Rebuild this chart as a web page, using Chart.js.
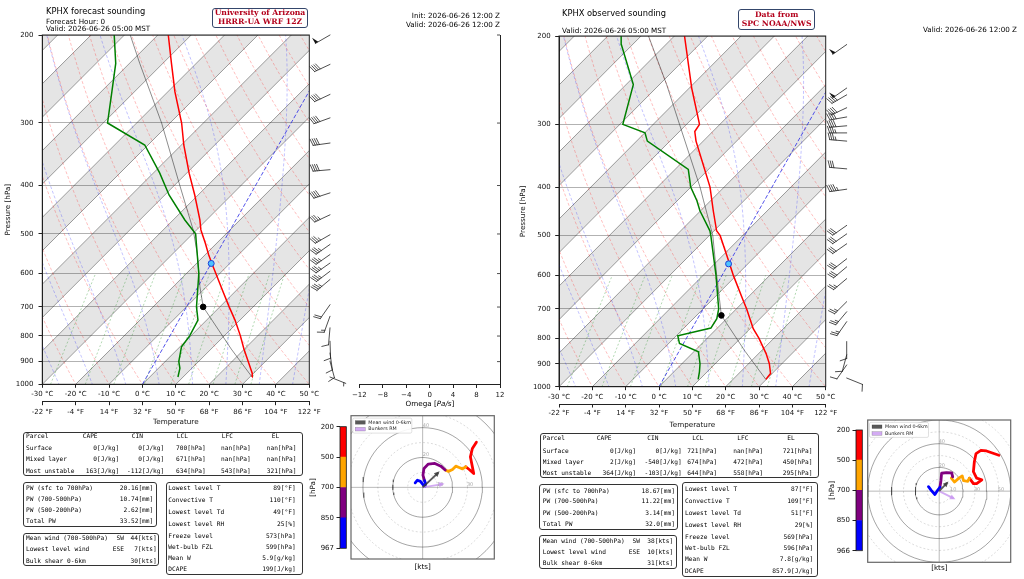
<!DOCTYPE html>
<html>
<head>
<meta charset="utf-8">
<title>KPHX soundings</title>
<script src="https://cdn.jsdelivr.net/npm/chart.js@4.4.1/dist/chart.umd.min.js"></script>
<style>
  html, body { margin: 0; padding: 0; background: #fff; }
  #page { position: relative; width: 1024px; height: 579px; overflow: hidden; font-family: "DejaVu Sans", sans-serif; color: #000; }
  #page canvas { position: absolute; }
  .t { position: absolute; white-space: pre; line-height: 1; }
  .box { position: absolute; box-sizing: border-box; border: 1.2px solid #333; border-radius: 3px; }
  .mono { font-family: "DejaVu Sans Mono", monospace; font-size: 6.2px; }
  .tag { position: absolute; box-sizing: border-box; border: 1.4px solid #34466b; border-radius: 3px; }
  .tagtxt { font-family: "DejaVu Serif", serif; font-weight: bold; color: #b3001b; font-size: 7.7px; }
</style>
</head>
<body>
<div id="page">
  <canvas id="skewFcst" width="360" height="430" style="left:0px;top:0px"></canvas>
  <canvas id="omega" width="175" height="420" style="left:340px;top:0px"></canvas>
  <canvas id="skewObs" width="350" height="432" style="left:515px;top:0px"></canvas>
  <canvas id="cbarFcst" width="52" height="140" style="left:296px;top:415px"></canvas>
  <canvas id="hodoFcst" width="152" height="160" style="left:348px;top:410px"></canvas>
  <canvas id="cbarObs" width="52" height="140" style="left:812px;top:418px"></canvas>
  <canvas id="hodoObs" width="162" height="169" style="left:862px;top:410px"></canvas>
</div>
<script>
// --- Axis ticks ---
const tempTicksC = [-30, -20, -10, 0, 10, 20, 30, 40, 50];
const tempTicksF = [-22, -4, 14, 32, 50, 68, 86, 104, 122];
const pressureTicks = [200, 300, 400, 500, 600, 700, 800, 900, 1000];
const omegaTicks = [-12, -8, -4, 0, 4, 8, 12];

// --- Forecast sounding (HRRR-UA WRF 12Z) ---
const fcstTempP = [967, 950, 900, 850, 800, 744, 700, 650, 600, 573, 550, 522, 491, 469, 418, 378, 332, 300, 260, 228, 200];
const fcstTempC = [31.6, 31.0, 27.8, 24.4, 21.1, 16.8, 12.8, 8.1, 3.1, 0.2, -2.3, -5.2, -8.8, -10.8, -16.6, -22.0, -28.4, -32.8, -40.1, -46.0, -51.8];
const fcstDewP = [967, 929, 900, 841, 800, 744, 700, 600, 522, 500, 469, 418, 378, 332, 300, 260, 228, 200];
const fcstDewC = [9.4, 8.5, 7.0, 5.3, 5.9, 5.7, 3.0, -2.0, -7.9, -9.7, -15.3, -24.3, -30.8, -40.1, -55.0, -59.0, -62.7, -68.0];
const fcstParcelP = [967, 850, 700, 638, 547, 491, 400, 300, 228, 200];
const fcstParcelC = [31.6, 20.6, 5.0, 0.6, -5.9, -11.1, -22.7, -38.8, -55.5, -63.2];
const fcstLcl = [700, 5.0];
const fcstFzl = 573;
const fcstWindP = [200, 229, 263, 293, 329, 372, 414, 458, 502, 525, 550, 572, 594, 617, 693, 731, 771, 820, 866, 899, 967];
const fcstWindDir = [240, 245, 245, 250, 262, 265, 252, 245, 240, 235, 235, 235, 233, 230, 215, 200, 185, 178, 172, 165, 112];
const fcstWindSpd = [50, 40, 40, 40, 40, 40, 40, 35, 35, 35, 35, 35, 35, 35, 20, 15, 10, 10, 10, 10, 7];

// --- Observed sounding (SPC) ---
const obsTempP = [967, 941, 900, 859, 800, 766, 700, 673, 600, 569, 500, 489, 446, 400, 324, 310, 300, 254, 200];
const obsTempC = [30.8, 31.2, 29.2, 26.5, 21.7, 18.4, 13.1, 10.6, 3.4, 0.3, -7.3, -9.2, -13.6, -18.6, -30.6, -32.6, -32.4, -40.9, -51.9];
const obsDewP = [967, 934, 900, 852, 820, 792, 764, 732, 700, 600, 500, 489, 446, 426, 400, 369, 324, 312, 300, 250, 208, 200];
const obsDewC = [10.5, 9.6, 8.4, 5.9, -1.2, -3.0, 5.6, 5.8, 4.7, -1.8, -10.1, -11.2, -17.6, -20.2, -24.4, -28.1, -45.2, -47.3, -55.4, -59.0, -69.4, -70.9];
const obsParcelP = [967, 850, 721, 600, 500, 426, 400, 300, 250, 200];
const obsParcelC = [30.8, 19.8, 6.6, -1.6, -9.5, -18.2, -21.6, -38.4, -49.0, -62.7];
const obsLcl = [721, 6.6];
const obsFzl = 569;
const obsWindP = [208, 254, 262, 278, 290, 302, 312, 324, 368, 404, 477, 496, 519, 556, 577, 609, 677, 709, 742, 813, 864, 905, 961];
const obsWindDir = [235, 235, 240, 245, 260, 265, 270, 275, 275, 262, 235, 235, 235, 232, 230, 230, 225, 220, 215, 180, 195, 215, 112];
const obsWindSpd = [50, 50, 40, 40, 40, 40, 35, 35, 30, 45, 30, 30, 30, 30, 30, 25, 25, 25, 25, 10, 10, 10, 10];

// --- Hodographs (u, v in kts), layers sfc-850, 850-700, 700-500, 500-200 ---
const fcstHodoBlue = [[-5.0, 3.0], [-3.5, 4.8], [-1.5, 4.0], [0.5, 1.5], [1.5, 0.5], [2.0, 2.5], [1.3, 4.4]];
const fcstHodoPurple = [[1.3, 4.4], [0.2, 8.2], [0.9, 12.7], [3.8, 15.6], [8.2, 16.0], [12.2, 14.2], [15.1, 11.6]];
const fcstHodoOrange = [[15.1, 11.6], [17.3, 10.7], [20.0, 12.0], [22.2, 14.2], [24.4, 13.3], [26.7, 12.4], [28.9, 13.8]];
const fcstHodoRed = [[28.9, 13.8], [31.6, 11.6], [34.2, 9.3], [33.3, 13.8], [32.0, 20.4], [33.3, 26.0], [36.0, 30.2]];
const fcstMeanWind = [10.4, 9.8];
const fcstBunkersRM = [13.3, 2.2];
const obsHodoBlue = [[-9.0, 3.8], [-6.5, 0.5], [-3.6, -2.8], [-1.5, 0.5], [0.6, 3.3]];
const obsHodoPurple = [[0.6, 3.3], [1.5, 9.0], [2.0, 15.1], [6.0, 15.7], [10.5, 15.4], [11.3, 12.1]];
const obsHodoOrange = [[11.3, 12.1], [10.2, 11.0], [12.9, 7.7], [16.5, 11.0], [19.3, 12.9], [20.4, 8.8], [24.0, 8.3], [25.3, 11.0]];
const obsHodoRed = [[25.3, 11.0], [28.7, 6.3], [31.4, 6.3], [35.8, 9.6], [31.4, 11.0], [28.7, 16.5], [29.5, 24.8], [30.9, 31.7], [35.0, 34.4], [39.7, 33.9], [50.1, 30.3]];
const obsMeanWind = [6.6, 6.9];
const obsBunkersRM = [12.1, -6.1];
const fcstCbarLabels = [967, 850, 700, 500, 200];
const obsCbarLabels = [966, 850, 700, 500, 200];
const ringRadii = [10, 20, 30, 40, 50, 60, 70];

// --- Tables ---
const parcelHead = ['Parcel', 'CAPE', 'CIN', 'LCL', 'LFC', 'EL'];
const fcstParcelRows = [
  ['Surface', '0[J/kg]', '0[J/kg]', '700[hPa]', 'nan[hPa]', 'nan[hPa]'],
  ['Mixed layer', '0[J/kg]', '0[J/kg]', '671[hPa]', 'nan[hPa]', 'nan[hPa]'],
  ['Most unstable', '163[J/kg]', '-112[J/kg]', '634[hPa]', '543[hPa]', '321[hPa]']
];
const fcstPwRows = [['PW (sfc to 700hPa)', '20.16[mm]'], ['PW (700-500hPa)', '10.74[mm]'], ['PW (500-200hPa)', '2.62[mm]'], ['Total PW', '33.52[mm]']];
const fcstWindRows = [['Mean wind (700-500hPa)', 'SW', '44[kts]'], ['Lowest level wind', 'ESE', '7[kts]'], ['Bulk shear 0-6km', '', '30[kts]']];
const fcstStatRows = [['Lowest level T', '89[°F]'], ['Convective T', '110[°F]'], ['Lowest level Td', '49[°F]'], ['Lowest level RH', '25[%]'],
  ['Freeze level', '573[hPa]'], ['Wet-bulb FZL', '599[hPa]'], ['Mean W', '5.9[g/kg]'], ['DCAPE', '199[J/kg]']];
const obsParcelRows = [
  ['Surface', '0[J/kg]', '0[J/kg]', '721[hPa]', 'nan[hPa]', '721[hPa]'],
  ['Mixed layer', '2[J/kg]', '-540[J/kg]', '674[hPa]', '472[hPa]', '450[hPa]'],
  ['Most unstable', '364[J/kg]', '-103[J/kg]', '644[hPa]', '558[hPa]', '295[hPa]']
];
const obsPwRows = [['PW (sfc to 700hPa)', '18.67[mm]'], ['PW (700-500hPa)', '11.22[mm]'], ['PW (500-200hPa)', '3.14[mm]'], ['Total PW', '32.0[mm]']];
const obsWindRows = [['Mean wind (700-500hPa)', 'SW', '38[kts]'], ['Lowest level wind', 'ESE', '10[kts]'], ['Bulk shear 0-6km', '', '31[kts]']];
const obsStatRows = [['Lowest level T', '87[°F]'], ['Convective T', '109[°F]'], ['Lowest level Td', '51[°F]'], ['Lowest level RH', '29[%]'],
  ['Freeze level', '569[hPa]'], ['Wet-bulb FZL', '596[hPa]'], ['Mean W', '7.8[g/kg]'], ['DCAPE', '857.9[J/kg]']];

// --- Skew-T helpers ---
const SKEW = 37;        // degC per ln(1000/p) for isotherms
const BAND_SKEW = 65;   // shaded band lines
const lnp = p => Math.log(1000 / p);
const skewX = (t, p) => t + SKEW * lnp(p);
const curveP = [];
for (let p = 1050; p >= 180; p -= 10) curveP.push(p);
const hodoColors = ['#0000ff', '#800080', '#ffa500', '#ff0000'];

Chart.defaults.font.family = '"DejaVu Sans", sans-serif';
Chart.defaults.color = '#111';

function line(data, color, width, dash, order) {
  return { data, borderColor: color, borderWidth: width, borderDash: dash || [], pointRadius: 0,
    showLine: true, fill: false, order: order, tension: 0 };
}

function moistAdiabat(t0) {
  const f = (p, T) => {
    const tc = T - 273.15;
    const es = 6.112 * Math.exp(17.67 * tc / (tc + 243.5));
    const rs = 0.622 * es / (p - es);
    return (287.04 * T + 2.501e6 * rs) / (p * (1005.7 + 2.501e6 * 2.501e6 * rs * 0.622 / (287.04 * T * T)));
  };
  const step = (p, T, dp) => {
    const k1 = f(p, T), k2 = f(p + dp / 2, T + dp / 2 * k1), k3 = f(p + dp / 2, T + dp / 2 * k2), k4 = f(p + dp, T + dp * k3);
    return T + dp * (k1 + 2 * k2 + 2 * k3 + k4) / 6;
  };
  const up = [], down = [];
  let T = t0 + 273.15;
  for (let p = 1000; p > 180; p -= 10) { up.push({ x: skewX(T - 273.15, p), y: p }); T = step(p, T, -10); }
  T = t0 + 273.15;
  for (let p = 1000; p < 1050; p += 10) { T = step(p, T, 10); down.unshift({ x: skewX(T - 273.15, p + 10), y: p + 10 }); }
  return down.concat(up);
}

function backgroundSets() {
  const sets = [];
  // shaded bands
  for (let a = -140; a <= 40; a += 20) {
    const e = (t, p) => ({ x: t + BAND_SKEW * lnp(p), y: p });
    sets.push({ data: [e(a, 1100), e(a, 150), e(a + 10, 150), e(a + 10, 1100), e(a, 1100)], showLine: true, pointRadius: 0,
      borderWidth: 0, borderColor: 'rgba(0,0,0,0)', backgroundColor: 'rgba(0,0,0,0.1)', fill: 'shape', order: 100 });
  }
  for (let t = -140; t <= 50; t += 10) {
    sets.push(line([{ x: t + BAND_SKEW * lnp(1100), y: 1100 }, { x: t + BAND_SKEW * lnp(150), y: 150 }], 'rgba(0,0,0,0.42)', 0.9, [], 90));
  }
  for (let t = -30; t <= 150; t += 10) {
    sets.push(line(curveP.map(p => ({ x: skewX((t + 273.15) * Math.pow(p / 1000, 0.2857) - 273.15, p), y: p })), 'rgba(255,0,0,0.32)', 0.8, [3, 2], 80));
  }
  for (let t = -25; t <= 45; t += 10) {
    sets.push(line(moistAdiabat(t), 'rgba(0,0,255,0.3)', 0.8, [3, 2], 80));
  }
  [0.4, 1, 2, 4, 7, 10, 16, 24, 32].forEach(w => {
    const pts = [];
    for (let p = 1000; p >= 600; p -= 20) {
      const l = Math.log((p * w / (622 + w)) / 6.112);
      pts.push({ x: skewX(243.5 * l / (17.67 - l), p), y: p });
    }
    sets.push(line(pts, 'rgba(0,128,0,0.38)', 0.8, [2, 2], 80));
  });
  sets.push(line([{ x: skewX(0, 1100), y: 1100 }, { x: skewX(0, 150), y: 150 }], 'rgba(40,40,230,0.8)', 1, [4, 2], 60));
  return sets;
}

const makeFrame = (color, width) => ({
  id: 'frame',
  afterDraw(chart) {
    const a = chart.chartArea, c = chart.ctx;
    c.save(); c.strokeStyle = color; c.lineWidth = width;
    c.strokeRect(a.left, a.top, a.right - a.left, a.bottom - a.top);
    c.restore();
  }
});

function drawBarb(ctx, x0, y0, dirDeg, spd) {
  const r = dirDeg * Math.PI / 180;
  const dx = Math.sin(r), dy = -Math.cos(r);
  const nx = -dy, ny = dx;
  const L = 17, F = 6.5, gap = 2.1;
  const tx = x0 + dx * L, ty = y0 + dy * L;
  ctx.beginPath(); ctx.moveTo(x0, y0); ctx.lineTo(tx, ty); ctx.stroke();
  let s = Math.round(spd / 5) * 5, pos = 0;
  while (s >= 50) {
    const ax = tx - dx * pos, ay = ty - dy * pos, bx = tx - dx * (pos + 3.4), by = ty - dy * (pos + 3.4);
    ctx.beginPath(); ctx.moveTo(ax, ay); ctx.lineTo(ax + nx * F, ay + ny * F); ctx.lineTo(bx, by); ctx.closePath(); ctx.fill();
    pos += 4.2; s -= 50;
  }
  while (s >= 10) {
    const qx = tx - dx * pos, qy = ty - dy * pos;
    ctx.beginPath(); ctx.moveTo(qx, qy); ctx.lineTo(qx + nx * F + dx * 2.2, qy + ny * F + dy * 2.2); ctx.stroke();
    pos += gap; s -= 10;
  }
  if (s >= 5) {
    if (pos === 0) pos = gap;
    const qx = tx - dx * pos, qy = ty - dy * pos;
    ctx.beginPath(); ctx.moveTo(qx, qy); ctx.lineTo(qx + nx * F * 0.5 + dx * 1.1, qy + ny * F * 0.5 + dy * 1.1); ctx.stroke();
  }
}

const makeBarbs = (x, pList, dirList, spdList) => ({
  id: 'barbs',
  afterDraw(chart) {
    const ctx = chart.ctx, y = chart.scales.y;
    ctx.save(); ctx.strokeStyle = '#222'; ctx.fillStyle = '#111'; ctx.lineWidth = 0.8; ctx.lineCap = 'round';
    pList.forEach((p, i) => drawBarb(ctx, x, y.getPixelForValue(p), dirList[i], spdList[i]));
    ctx.restore();
  }
});

function skewChart(id, s, g) {
  const pts = (pl, tl) => pl.map((p, i) => ({ x: skewX(tl[i], p), y: p }));
  const datasets = backgroundSets().concat([
    line(pts(s.parcelP, s.parcelC), 'rgba(0,0,0,0.5)', 0.9, [], 7),
    line(pts(s.dewP, s.dewC), '#008000', 1.5, [], 6),
    line(pts(s.tempP, s.tempC), '#ff0000', 1.5, [], 5),
    { data: [{ x: skewX(s.lcl[1], s.lcl[0]), y: s.lcl[0] }], pointRadius: 2.8, pointBackgroundColor: '#000', pointBorderColor: '#000', showLine: false, order: 1 },
    { data: [{ x: skewX(0, s.fzl), y: s.fzl }], pointRadius: 3, pointBackgroundColor: '#4cc3ff', pointBorderColor: '#1f3fd6', pointBorderWidth: 1, showLine: false, order: 0 }
  ]);
  new Chart(document.getElementById(id), {
    type: 'scatter',
    data: { datasets },
    options: {
      responsive: false, animation: false, events: [],
      layout: { padding: g.pad },
      plugins: { legend: { display: false }, tooltip: { enabled: false } },
      scales: {
        x: {
          type: 'linear', position: 'bottom', min: -30, max: 50, weight: 1,
          afterBuildTicks: sc => { sc.ticks = tempTicksC.map(v => ({ value: v })); },
          afterFit: sc => { sc.height = g.xH; },
          ticks: { callback: v => `${v} °C`, font: { size: 7 }, padding: g.xPad, maxRotation: 0, autoSkip: false },
          grid: { drawOnChartArea: false, tickLength: 3.5, tickColor: '#222' },
          border: { color: '#222' }
        },
        xF: {
          type: 'linear', position: 'bottom', min: -22, max: 122, weight: 2,
          afterBuildTicks: sc => { sc.ticks = tempTicksF.map(v => ({ value: v })); },
          afterFit: sc => { sc.height = g.fH; },
          ticks: { callback: v => `${v} °F`, font: { size: 7 }, padding: g.fPad, maxRotation: 0, autoSkip: false },
          grid: { drawOnChartArea: false, tickLength: 3.5, tickColor: '#222' },
          border: { color: '#222' },
          title: { display: true, text: 'Temperature', font: { size: 7.2 }, padding: { top: 0, bottom: g.tPad } }
        },
        y: {
          type: 'logarithmic', position: 'left', min: 200, max: 1000, reverse: true,
          afterBuildTicks: sc => { sc.ticks = pressureTicks.map(v => ({ value: v })); },
          afterFit: sc => { sc.width = g.yW; },
          ticks: { callback: v => String(v), font: { size: 7 }, padding: g.yPad, autoSkip: false },
          grid: { color: 'rgba(0,0,0,0.3)', lineWidth: 1, tickLength: 3.8, tickColor: '#222' },
          border: { color: '#222' },
          title: { display: true, text: 'Pressure [hPa]', font: { size: 7.2 }, padding: { top: 4, bottom: 0 } }
        }
      }
    },
    plugins: [makeFrame('#222', 1), makeBarbs(g.barbX, s.windP, s.windDir, s.windSpd)]
  });
}

skewChart('skewFcst',
  { tempP: fcstTempP, tempC: fcstTempC, dewP: fcstDewP, dewC: fcstDewC, parcelP: fcstParcelP, parcelC: fcstParcelC,
    lcl: fcstLcl, fzl: fcstFzl, windP: fcstWindP, windDir: fcstWindDir, windSpd: fcstWindSpd },
  { pad: { left: 0, top: 35, right: 50.7, bottom: 0.3 }, yW: 42.3, xH: 17.4, fH: 28, xPad: 2.3, fPad: 2.3, tPad: 2.9, yPad: 5, barbX: 330 });
skewChart('skewObs',
  { tempP: obsTempP, tempC: obsTempC, dewP: obsDewP, dewC: obsDewC, parcelP: obsParcelP, parcelC: obsParcelC,
    lcl: obsLcl, fzl: obsFzl, windP: obsWindP, windDir: obsWindDir, windSpd: obsWindSpd },
  { pad: { left: 0, top: 36, right: 39.3, bottom: 0.3 }, yW: 44, xH: 17.3, fH: 27.7, xPad: 2.9, fPad: 1.6, tPad: 2.4, yPad: 4.5, barbX: 331.7 });

// --- Omega panel (empty axes) ---
new Chart(document.getElementById('omega'), {
  type: 'scatter',
  data: { datasets: [{ data: [] }] },
  options: {
    responsive: false, animation: false, events: [],
    layout: { padding: { left: 19.3, top: 35, right: 0, bottom: 0 } },
    plugins: { legend: { display: false }, tooltip: { enabled: false } },
    scales: {
      x: {
        type: 'linear', min: -12, max: 12,
        afterBuildTicks: sc => { sc.ticks = omegaTicks.map(v => ({ value: v })); },
        afterFit: sc => { sc.height = 35.5; },
        ticks: { callback: v => (v < 0 ? '\u2212' + Math.abs(v) : String(v)), font: { size: 7 }, padding: 2.8, maxRotation: 0, autoSkip: false },
        grid: { drawOnChartArea: false, tickLength: 3.5, tickColor: '#222' },
        border: { color: '#222' }
      },
      y: {
        type: 'logarithmic', position: 'right', min: 200, max: 1000, reverse: true,
        afterFit: sc => { sc.width = 15; },
        ticks: { display: false },
        grid: { display: false },
        border: { display: true, color: '#222' }
      }
    }
  },
  plugins: [{
    id: 'innerTicks',
    afterDraw(chart) {
      const c = chart.ctx, y = chart.scales.y, r = chart.chartArea.right;
      c.save(); c.strokeStyle = '#222'; c.lineWidth = 0.8;
      pressureTicks.forEach(p => { const py = y.getPixelForValue(p); c.beginPath(); c.moveTo(r - 3, py); c.lineTo(r, py); c.stroke(); });
      c.restore();
    }
  }]
});

// --- Colour bars ---
function cbarChart(id, labels, g) {
  new Chart(document.getElementById(id), {
    type: 'bar',
    data: { labels: [''], datasets: hodoColors.map(c => ({ data: [1], backgroundColor: c, borderWidth: 0, barPercentage: 1, categoryPercentage: 1 })) },
    options: {
      responsive: false, animation: false, events: [],
      layout: { padding: g.pad },
      plugins: { legend: { display: false }, tooltip: { enabled: false } },
      scales: {
        x: { display: false, stacked: true },
        y: {
          stacked: true, min: 0, max: labels.length - 1,
          afterBuildTicks: sc => { sc.ticks = labels.map((_, i) => ({ value: i })); },
          afterFit: sc => { sc.width = 44; },
          ticks: { callback: v => String(labels[v]), font: { size: 7 }, padding: 2.5, autoSkip: false },
          grid: { drawOnChartArea: false, tickLength: 3.5, tickColor: '#222' },
          border: { display: false },
          title: { display: true, text: '[hPa]', font: { size: 7.2 }, padding: { top: g.titlePad, bottom: 0 } }
        }
      }
    },
    plugins: [makeFrame('#111', 0.8)]
  });
}
cbarChart('cbarFcst', fcstCbarLabels, { pad: { left: 0, right: 1.7, top: 11.7, bottom: 6.7 }, titlePad: 12.7 });
cbarChart('cbarObs', obsCbarLabels, { pad: { left: 0, right: 1.7, top: 12, bottom: 7.3 }, titlePad: 15.4 });

// --- Hodographs ---
function hodoChart(id, layers, mean, rm, range, pad) {
  const angles = [];
  for (let a = 0; a <= 360; a += 5) angles.push(a * Math.PI / 180);
  const xy = arr => arr.map(([u, v]) => ({ x: u, y: v }));
  const datasets = ringRadii.map(r => ({
    data: angles.map(a => ({ x: r * Math.cos(a), y: r * Math.sin(a) })), showLine: true, pointRadius: 0,
    borderColor: r % 20 ? 'rgba(0,0,0,0.18)' : 'rgba(0,0,0,0.45)', borderDash: r % 20 ? [2, 2] : [], borderWidth: 0.8, order: 50
  }));
  datasets.push(line([{ x: -range * 1.2, y: 0 }, { x: range * 1.2, y: 0 }], 'rgba(0,0,0,0.35)', 0.8, [], 40));
  datasets.push(line([{ x: 0, y: -range * 1.2 }, { x: 0, y: range * 1.2 }], 'rgba(0,0,0,0.35)', 0.8, [], 40));
  layers.forEach((layer, i) => {
    const d = line(xy(layer), hodoColors[i], 2.8, [], 10);
    d.borderCapStyle = 'round'; d.borderJoinStyle = 'round';
    datasets.push(d);
  });
  const meanSet = line([{ x: 0, y: 0 }, { x: mean[0], y: mean[1] }], 'rgba(60,60,60,0.85)', 1.8, [], 3);
  meanSet.label = 'Mean wind 0-6km'; meanSet.arrowHead = true;
  const rmSet = line([{ x: 0, y: 0 }, { x: rm[0], y: rm[1] }], 'rgba(200,150,240,0.8)', 1.8, [], 4);
  rmSet.label = 'Bunkers RM'; rmSet.arrowHead = true;
  datasets.push(meanSet, rmSet);

  new Chart(document.getElementById(id), {
    type: 'scatter',
    data: { datasets },
    options: {
      responsive: false, animation: false, events: [],
      layout: { padding: pad },
      plugins: { legend: { display: false }, tooltip: { enabled: false } },
      scales: { x: { display: false, min: -range, max: range }, y: { display: false, min: -range, max: range } }
    },
    plugins: [makeFrame('#666', 1.2), {
      id: 'hodoExtras',
      afterDatasetsDraw(chart) {
        const c = chart.ctx, sx = chart.scales.x, sy = chart.scales.y, a = chart.chartArea;
        c.save();
        c.beginPath(); c.rect(a.left, a.top, a.right - a.left, a.bottom - a.top); c.clip();
        c.font = '5px "DejaVu Sans"'; c.fillStyle = '#aaa'; c.textAlign = 'center'; c.textBaseline = 'middle';
        ringRadii.forEach(r => {
          const [u, v] = r % 20 ? [r + 1.8, 1.6] : [2.2, r + 1.6];
          if (u < range && v < range) c.fillText(String(r), sx.getPixelForValue(u), sy.getPixelForValue(v));
        });
        chart.data.datasets.forEach(ds => {
          if (!ds.arrowHead) return;
          const p0 = ds.data[0], p1 = ds.data[1];
          const x0 = sx.getPixelForValue(p0.x), y0 = sy.getPixelForValue(p0.y);
          const x1 = sx.getPixelForValue(p1.x), y1 = sy.getPixelForValue(p1.y);
          const ang = Math.atan2(y1 - y0, x1 - x0);
          c.fillStyle = ds.borderColor;
          c.beginPath();
          c.moveTo(x1 + Math.cos(ang) * 2, y1 + Math.sin(ang) * 2);
          c.lineTo(x1 - Math.cos(ang) * 3.5 + Math.sin(ang) * 2.6, y1 - Math.sin(ang) * 3.5 - Math.cos(ang) * 2.6);
          c.lineTo(x1 - Math.cos(ang) * 3.5 - Math.sin(ang) * 2.6, y1 - Math.sin(ang) * 3.5 + Math.cos(ang) * 2.6);
          c.closePath(); c.fill();
        });
        const items = chart.data.datasets.filter(ds => ds.label);
        const lx = a.left + 1.8, ly = a.top + 2.4;
        c.fillStyle = 'rgba(255,255,255,0.9)'; c.strokeStyle = '#ccc'; c.lineWidth = 0.6;
        c.beginPath(); c.roundRect(lx, ly, 59, 15, 1.5); c.fill(); c.stroke();
        c.font = '4.8px "DejaVu Sans"'; c.textAlign = 'left'; c.textBaseline = 'middle';
        items.forEach((ds, i) => {
          const ry = ly + 4.3 + i * 6.8;
          c.fillStyle = ds.borderColor; c.fillRect(lx + 2.5, ry - 1.8, 10, 3.6);
          c.strokeStyle = 'rgba(0,0,0,0.4)'; c.lineWidth = 0.4; c.strokeRect(lx + 2.5, ry - 1.8, 10, 3.6);
          c.fillStyle = '#222'; c.fillText(ds.label, lx + 15.5, ry);
        });
        c.restore();
      }
    }]
  });
}
hodoChart('hodoFcst', [fcstHodoBlue, fcstHodoPurple, fcstHodoOrange, fcstHodoRed], fcstMeanWind, fcstBunkersRM, 48,
  { left: 3, right: 5.7, top: 5.7, bottom: 11 });
hodoChart('hodoObs', [obsHodoBlue, obsHodoPurple, obsHodoOrange, obsHodoRed], obsMeanWind, obsBunkersRM, 60,
  { left: 5.7, right: 13.3, top: 10, bottom: 16.7 });

// --- Text, tags and tables ---
const page = document.getElementById('page');
function txt(text, x, y, align, cls, size) {
  const d = document.createElement('div');
  d.className = 't ' + (cls || '');
  d.textContent = text;
  d.style.left = x + 'px';
  d.style.top = y + 'px';
  const tx = align === 'right' ? '-100%' : align === 'center' ? '-50%' : '0';
  d.style.transform = `translate(${tx},-50%)`;
  if (size) d.style.fontSize = size + 'px';
  page.appendChild(d);
  return d;
}
function box(x0, y0, x1, y1, cls) {
  const d = document.createElement('div');
  d.className = cls || 'box';
  Object.assign(d.style, { left: x0 + 'px', top: y0 + 'px', width: (x1 - x0) + 'px', height: (y1 - y0) + 'px' });
  page.appendChild(d);
}
function tag(lines, x0, y0, x1, y1, ys) {
  box(x0, y0, x1, y1, 'tag');
  lines.forEach((l, i) => txt(l, (x0 + x1) / 2, ys[i], 'center', 'tagtxt'));
}

txt('KPHX forecast sounding', 46, 11, 'left', '', 8.3);
txt('Forecast Hour: 0', 46, 21.7, 'left', '', 7.2);
txt('Valid: 2026-06-26 05:00 MST', 46, 29.3, 'left', '', 7.2);
tag(['University of Arizona', 'HRRR-UA WRF 12Z'], 211.7, 7.7, 308.3, 28.3, [13.4, 22.2]);
txt('Init: 2026-06-26 12:00 Z', 500, 15.7, 'right', '', 7.2);
txt('Valid: 2026-06-26 12:00 Z', 500, 25, 'right', '', 7.2);
txt('KPHX observed sounding', 562, 12.7, 'left', '', 8.3);
txt('Valid: 2026-06-26 05:00 MST', 562, 30.7, 'left', '', 7.2);
tag(['Data from', 'SPC NOAA/NWS'], 738.3, 9.3, 815, 30, [15, 23.8]);
txt('Valid: 2026-06-26 12:00 Z', 1017, 30, 'right', '', 7.2);
const om = txt('', 430, 404, 'center', '', 7.2);
om.innerHTML = 'Omega [<i>Pa/s</i>]';
txt('[kts]', 422.7, 567, 'center', '', 7.2);
txt('[kts]', 939.3, 568.3, 'center', '', 7.2);

function parcelTable(head, rows, g) {
  box(g.box[0], g.box[1], g.box[2], g.box[3]);
  head.forEach((h, i) => txt(h, g.headX[i], g.rowY[0], 'left', 'mono'));
  const align = ['left', 'right', 'right', 'left', 'left', 'left'];
  rows.forEach((r, j) => r.forEach((v, i) => txt(v, g.colX[i], g.rowY[j + 1], align[i], 'mono')));
}
function kvTable(rows, g) {
  box(g.box[0], g.box[1], g.box[2], g.box[3]);
  rows.forEach((r, j) => {
    txt(r[0], g.lx, g.rowY[j], 'left', 'mono');
    if (r.length === 3) {
      if (r[1]) txt(r[1], g.mx, g.rowY[j], 'right', 'mono');
      txt(r[2], g.vx, g.rowY[j], 'right', 'mono');
    } else {
      txt(r[1], g.vx, g.rowY[j], 'right', 'mono');
    }
  });
}

parcelTable(parcelHead, fcstParcelRows, { box: [23.3, 431.7, 303.3, 476], headX: [26, 82.7, 131.7, 176.7, 221.7, 271.7],
  rowY: [436, 447.7, 459.3, 471], colX: [26, 119.3, 164.3, 176, 221, 266.7] });
kvTable(fcstPwRows, { box: [23.3, 481.7, 156.7, 527.3], lx: 26, vx: 153.3, rowY: [487.7, 499.3, 510, 520.7] });
kvTable(fcstWindRows, { box: [23.3, 532.7, 159.3, 566], lx: 26, mx: 124, vx: 156.7, rowY: [537.7, 549, 560.7] });
kvTable(fcstStatRows, { box: [165.7, 481.7, 302.7, 575], lx: 168.3, vx: 295.7,
  rowY: [487.7, 500.3, 512.3, 524, 536, 547, 557.7, 569.3] });

parcelTable(parcelHead, obsParcelRows, { box: [540, 433.3, 819, 478.3], headX: [542.7, 596.7, 647.3, 692.3, 737.3, 787.3],
  rowY: [438.3, 450.7, 462, 473.3], colX: [542.7, 636, 681.7, 687.3, 733.3, 782.7] });
kvTable(obsPwRows, { box: [539.3, 484.3, 678.3, 530], lx: 542.7, vx: 675, rowY: [490.7, 501.3, 512.7, 524] });
kvTable(obsWindRows, { box: [539.3, 535, 676.7, 569], lx: 542.7, mx: 640, vx: 673.3, rowY: [540.7, 552.3, 563.3] });
kvTable(obsStatRows, { box: [681.7, 481.7, 818.3, 576.7], lx: 685, vx: 813.3,
  rowY: [489, 501, 513.3, 525.3, 536.7, 548, 559.3, 570.7] });
</script>
</body>
</html>
